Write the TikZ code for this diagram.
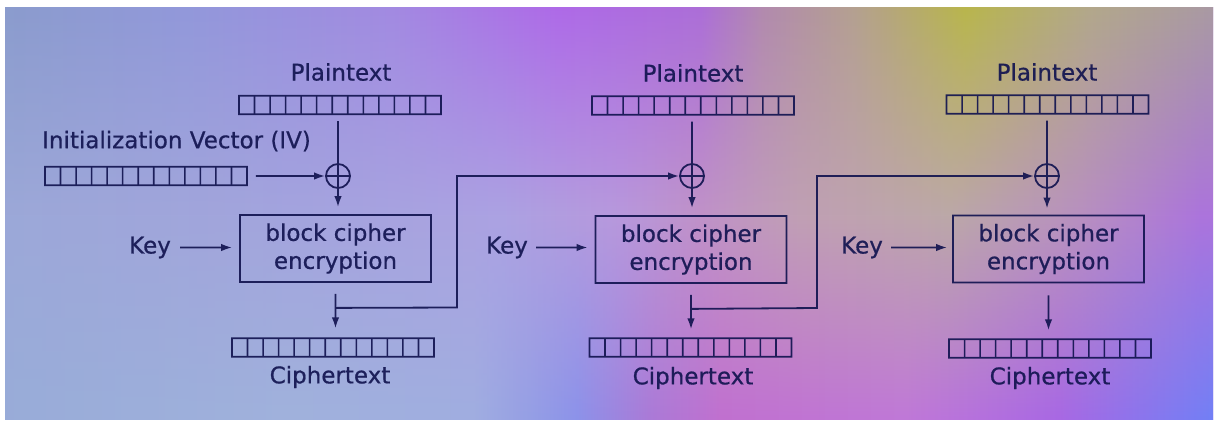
\documentclass[tikz,border=0pt]{standalone}
\usepackage{fontspec}
\setmainfont{DejaVu Sans}
\newfontfamily\inkfont{DejaVu Sans}[FakeBold=0.7]
\usetikzlibrary{arrows.meta,fadings,calc}

% ink and backdrop colours
\definecolor{ink}{HTML}{121450}
\definecolor{tA}{HTML}{8A9CCC}\definecolor{tB}{HTML}{9298DA}\definecolor{tC}{HTML}{A28AE2}
\definecolor{tD}{HTML}{AE6AE8}\definecolor{tE}{HTML}{AC6ED8}\definecolor{tF}{HTML}{B28AAE}
\definecolor{tG}{HTML}{B4A090}\definecolor{tH}{HTML}{B8B64C}\definecolor{tI}{HTML}{B2A88A}
\definecolor{tJ}{HTML}{A898A6}
\definecolor{mA}{HTML}{9CA8D8}\definecolor{mB}{HTML}{A4A4DE}\definecolor{mC}{HTML}{ACA2E2}
\definecolor{mD}{HTML}{B898DC}\definecolor{mE}{HTML}{C092C8}\definecolor{mF}{HTML}{C0A0B4}
\definecolor{mG}{HTML}{BCA8A8}\definecolor{mH}{HTML}{B890C0}\definecolor{mI}{HTML}{AC74DC}
\definecolor{bA}{HTML}{98ACD8}\definecolor{bB}{HTML}{A0B2DC}\definecolor{bC}{HTML}{A0AEE0}
\definecolor{bD}{HTML}{8C92EA}\definecolor{bE}{HTML}{AA7AD8}\definecolor{bF}{HTML}{C070D0}
\definecolor{bG}{HTML}{C078D8}\definecolor{bH}{HTML}{A868E4}\definecolor{bI}{HTML}{7280F6}

\pgfdeclarehorizontalshading{bgtop}{100bp}{%
  color(0bp)=(tA); color(25bp)=(tA); color(33bp)=(tB); color(41.3bp)=(tC);
  color(48bp)=(tD); color(53.8bp)=(tE); color(56.3bp)=(tF); color(60bp)=(tG);
  color(64.5bp)=(tH); color(69.5bp)=(tI); color(75bp)=(tJ); color(100bp)=(tJ)}
\pgfdeclarehorizontalshading{bgmid}{100bp}{%
  color(0bp)=(mA); color(25bp)=(mA); color(37.2bp)=(mB); color(45.5bp)=(mC);
  color(50.5bp)=(mD); color(53.8bp)=(mE); color(57.9bp)=(mF); color(64.1bp)=(mG);
  color(69.5bp)=(mH); color(74.5bp)=(mI); color(100bp)=(mI)}
\pgfdeclarehorizontalshading{bgbot}{100bp}{%
  color(0bp)=(bA); color(25bp)=(bA); color(37.2bp)=(bB); color(44.6bp)=(bC);
  color(48.8bp)=(bD); color(51.7bp)=(bE); color(54.6bp)=(bF); color(62.1bp)=(bG);
  color(68.3bp)=(bH); color(74.5bp)=(bI); color(100bp)=(bI)}

\begin{document}
\begin{tikzpicture}[x=1pt,y=-1pt,
  wire/.style={draw=ink, line width=1.8pt},
  arr/.style={-{Latex[length=11pt,width=7.5pt]}},
  lbl/.style={inner sep=0pt, text=ink, font=\inkfont\fontsize{23}{29}\selectfont},
  reg/.style={draw=ink, line width=1.8pt, minimum width=202pt, minimum height=18.5pt,
    inner sep=0pt,
    path picture={\foreach \k in {1,...,12}{%
      \draw[ink, line width=1.6pt]
        ($(path picture bounding box.south west)!\k/13!(path picture bounding box.south east)$) --
        ($(path picture bounding box.north west)!\k/13!(path picture bounding box.north east)$);}}},
  xor/.style={circle, draw=ink, line width=1.8pt, minimum size=24pt, inner sep=0pt,
    path picture={\draw[ink, line width=1.6pt]
      (path picture bounding box.north) -- (path picture bounding box.south)
      (path picture bounding box.west) -- (path picture bounding box.east);}},
  cipherbox/.style={draw=ink, line width=1.8pt, minimum width=191pt, minimum height=67pt,
    align=center, text=ink, font=\inkfont\fontsize{23}{28}\selectfont, inner sep=0pt}
]
\useasboundingbox (0,0) rectangle (1214,423);
\fill[white] (0,0) rectangle (1214,423);

% projected backdrop, three bands blended vertically
\begin{scope}
\clip (5,7) rectangle (1213,419);
\shade[shading=bgmid] (5,7) rectangle (1213,419);
\shade[shading=bgtop, path fading=south] (-10,7) rectangle (1228,215);
\shade[shading=bgbot, path fading=north] (-10,215) rectangle (1228,419);
\end{scope}

\begin{scope}[transparency group, opacity=0.92]
% first stage, fed by the IV
\node[lbl] (pt1) at (341,72) {Plaintext};
\node[reg] (p1) at (340,105) {};
\node[lbl, anchor=west] (ivl) at (42,141) {Initialization Vector (IV)};
\node[reg] (iv) at (146,176) {};
\node[xor] (x1) at (338,176) {};
\node[cipherbox] (b1) at (335.5,248.5) {block cipher\\encryption};
\node[lbl] (k1) at (150,247.5) {Key};
\node[reg] (c1) at (333,347.5) {};
\node[lbl] (ct1) at (330,377) {Ciphertext};

% second stage
\node[lbl] (pt2) at (693,73) {Plaintext};
\node[reg] (p2) at (693,105.5) {};
\node[xor] (x2) at (692,176) {};
\node[cipherbox] (b2) at (691,249.5) {block cipher\\encryption};
\node[lbl] (k2) at (507,247.5) {Key};
\node[reg] (c2) at (690.5,347.5) {};
\node[lbl] (ct2) at (693,378) {Ciphertext};

% third stage
\node[lbl] (pt3) at (1047,72) {Plaintext};
\node[reg] (p3) at (1047.5,104.5) {};
\node[xor] (x3) at (1047,176) {};
\node[cipherbox] (b3) at (1048.5,249) {block cipher\\encryption};
\node[lbl] (k3) at (862,247.5) {Key};
\node[reg] (c3) at (1050,348.5) {};
\node[lbl] (ct3) at (1050,378) {Ciphertext};

% data flow
\draw[wire] ($(x1.north |- p1.south)+(0,6)$) -- (x1.north);
\draw[wire] ($(x2.north |- p2.south)+(0,6)$) -- (x2.north);
\draw[wire] ($(x3.north |- p3.south)+(0,6)$) -- (x3.north);
\draw[wire,arr,shorten >=7pt] (x1.south) -- (x1.south |- b1.north);
\draw[wire,arr,shorten >=7pt] (x2.south) -- (x2.south |- b2.north);
\draw[wire,arr,shorten >=6pt] (x3.south) -- (x3.south |- b3.north);
\draw[wire,arr] ($(iv.east)+(8,0)$) -- (x1.west);
\draw[wire,arr,shorten >=7pt] ($(k1.east)+(9,0)$) -- (k1.east -| b1.west);
\draw[wire,arr,shorten >=7pt] ($(k2.east)+(8,0)$) -- (k2.east -| b2.west);
\draw[wire,arr,shorten >=5pt] ($(k3.east)+(8,0)$) -- (k3.east -| b3.west);

\coordinate (o1) at ($(b1.south)+(0,11)$);
\coordinate (o2) at ($(b2.south)+(0,11)$);
\coordinate (o3) at ($(b3.south)+(0,12)$);
\draw[wire,arr,shorten >=9pt] (o1) -- (o1 |- c1.north);
\draw[wire,arr,shorten >=8pt] (o2) -- (o2 |- c2.north);
\draw[wire,arr,shorten >=8pt] (o3) -- (o3 |- c3.north);

% chaining: each ciphertext feeds the next XOR
\coordinate (j1) at ($(b1.south)+(0,25)$);
\coordinate (t1) at (457,307.5);
\draw[wire,arr] (j1) -- (t1) |- (x2.west);
\coordinate (j2) at ($(b2.south)+(0,25)$);
\coordinate (t2) at (817,308);
\draw[wire,arr] (j2) -- (t2) |- (x3.west);
\end{scope}
\end{tikzpicture}
\end{document}
